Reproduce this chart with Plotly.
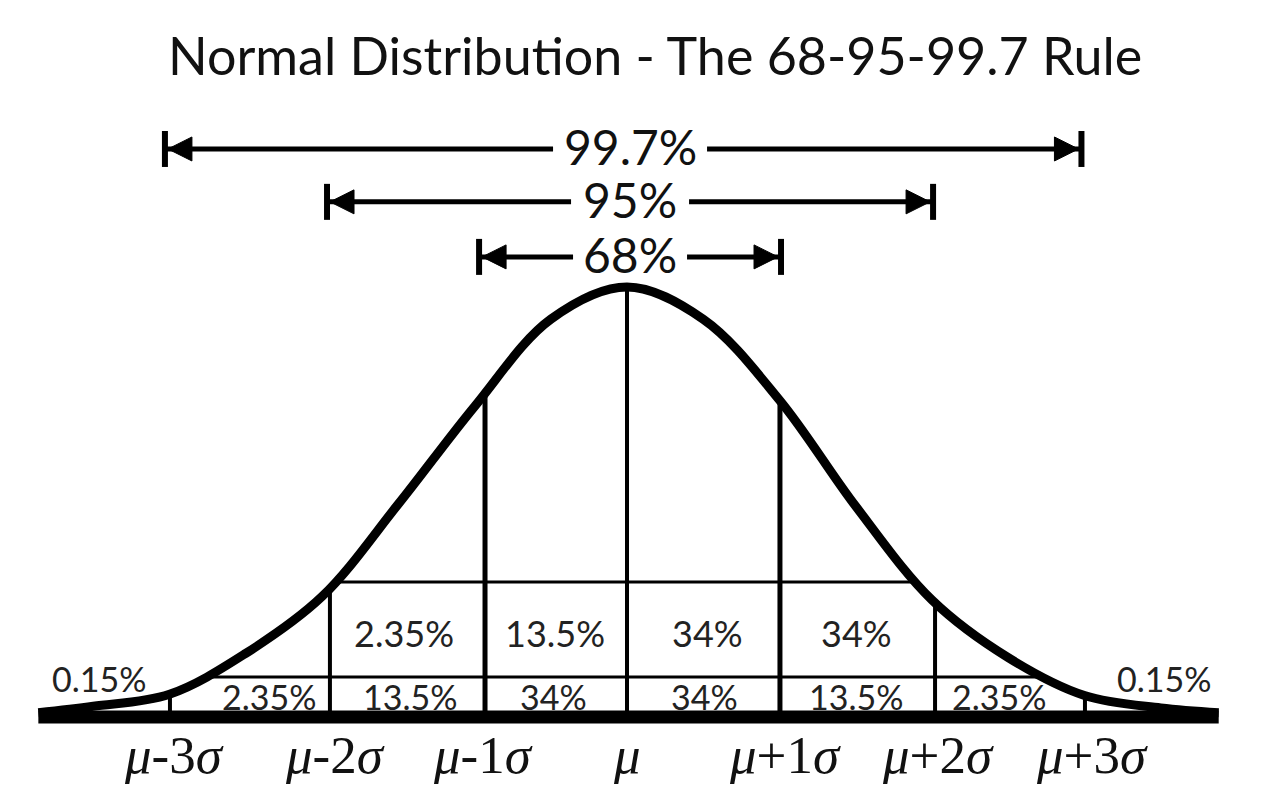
import numpy as np
import plotly.graph_objects as go

# ---------------- data ----------------
title_text = "Normal Distribution - The 68-95-99.7 Rule"

# bell curve: x in sigma units, height relative to the peak
curve_x = [-3.86, -3.5, -3.0, -2.5, -2.0, -1.5, -1.0, -0.5, 0.0,
           0.5, 1.0, 1.5, 2.0, 2.5, 3.0, 3.5, 3.88]
curve_y = [0.010, 0.025, 0.053, 0.148, 0.280, 0.495, 0.722, 0.925, 1.000,
           0.925, 0.737, 0.490, 0.272, 0.138, 0.050, 0.021, 0.010]

# positions of the drawn sigma dividers (as placed in the picture)
sigma_line_x = [-2.997, -1.948, -0.931, 0.0, 1.003, 2.02, 3.003]
sigma_label_x = [-2.97, -1.915, -0.944, 0.0, 1.038, 2.04, 3.05]
sigma_labels = ["<i>μ</i>-3<i>σ</i>", "<i>μ</i>-2<i>σ</i>", "<i>μ</i>-1<i>σ</i>",
                "<i>μ</i>", "<i>μ</i>+1<i>σ</i>", "<i>μ</i>+2<i>σ</i>", "<i>μ</i>+3<i>σ</i>"]

range_labels = ["99.7%", "95%", "68%"]
range_left = [-3.03, -1.967, -0.97]
range_right = [2.98, 2.007, 1.01]
range_heights = [1.321, 1.198, 1.070]

row_line_heights = [0.093, 0.314]

upper_row_x = [-1.462, -0.472, 0.525, 1.508]
upper_row_labels = ["2.35%", "13.5%", "34%", "34%"]
upper_row_height = 0.196

lower_row_x = [-2.348, -1.423, -0.485, 0.511, 1.502, 2.439]
lower_row_labels = ["2.35%", "13.5%", "34%", "34%", "13.5%", "2.35%"]
lower_row_height = 0.047

tail_x = [-3.46, 3.52]
tail_labels = ["0.15%", "0.15%"]
tail_height = 0.090

baseline_x = [-3.86, 3.88]

# ---------------- geometry of the canvas ----------------
W, H = 1280, 800
X0_PX, Y0_PX = 627, 717            # pixel position of (mu, 0)
X_UNIT_PX, Y_UNIT_PX = 152.5, 430  # pixels per sigma / per peak height
px_x = 1.0 / X_UNIT_PX
px_y = 1.0 / Y_UNIT_PX
x_range = [(0 - X0_PX) / X_UNIT_PX, (W - X0_PX) / X_UNIT_PX]
y_range = [(Y0_PX - H) / Y_UNIT_PX, Y0_PX / Y_UNIT_PX]

BLACK = "#000000"
TXT = "#222222"
LABEL_CX = 0.02                      # centre of the arrow labels
GAP_HALF_PX = [77, 59, 57]           # half width of the gap left for each label

fig = go.Figure()

# vertical sigma lines (baseline up to the curve)
for i, pos in enumerate(sigma_line_x):
    top = float(np.interp(pos, curve_x, curve_y))
    fig.add_trace(go.Scatter(x=[pos, pos], y=[0, top], mode="lines",
                             line=dict(color=BLACK, width=5 if i in (2, 4) else 4),
                             hoverinfo="skip", showlegend=False))

# horizontal row lines between the two sides of the curve
peak = int(np.argmax(curve_y))
lx, ly = curve_x[:peak + 1], curve_y[:peak + 1]
rx, ry = curve_x[peak:][::-1], curve_y[peak:][::-1]
for h in row_line_heights:
    xl = float(np.interp(h, ly, lx))
    xr = float(np.interp(h, ry, rx))
    fig.add_trace(go.Scatter(x=[xl, xr], y=[h, h], mode="lines",
                             line=dict(color=BLACK, width=3),
                             hoverinfo="skip", showlegend=False))

# bell curve
fig.add_trace(go.Scatter(x=curve_x, y=curve_y, mode="lines",
                         line=dict(color=BLACK, width=9, shape="spline", smoothing=1.0),
                         hoverinfo="skip", showlegend=False))

# baseline
fig.add_trace(go.Scatter(x=baseline_x, y=[0, 0], mode="lines",
                         line=dict(color=BLACK, width=13),
                         hoverinfo="skip", showlegend=False))

# range arrows
annotations = []
for lab, xl, xr, h, gap in zip(range_labels, range_left, range_right, range_heights, GAP_HALF_PX):
    g = gap * px_x
    fig.add_trace(go.Scatter(x=[xl, LABEL_CX - g, None, LABEL_CX + g, xr],
                             y=[h, h, None, h, h], mode="lines",
                             line=dict(color=BLACK, width=5),
                             hoverinfo="skip", showlegend=False))
    for side, bx in ((-1, xl), (1, xr)):
        fig.add_trace(go.Scatter(x=[bx, bx], y=[h - 18 * px_y, h + 18 * px_y], mode="lines",
                                 line=dict(color=BLACK, width=6),
                                 hoverinfo="skip", showlegend=False))
        tip = bx - side * 3 * px_x
        base = bx - side * 27 * px_x
        fig.add_trace(go.Scatter(x=[tip, base, base, tip],
                                 y=[h, h + 12 * px_y, h - 12 * px_y, h],
                                 mode="lines", fill="toself", fillcolor=BLACK,
                                 line=dict(color=BLACK, width=1),
                                 hoverinfo="skip", showlegend=False))
    annotations.append(dict(x=LABEL_CX, y=h + 2 * px_y, xref="x", yref="y", text=lab,
                            showarrow=False,
                            font=dict(family="Lato", size=48, color="#111111"),
                            xanchor="center", yanchor="middle"))

# percentage labels
for x, lab in zip(upper_row_x, upper_row_labels):
    annotations.append(dict(x=x, y=upper_row_height, xref="x", yref="y", text=lab,
                            showarrow=False, font=dict(family="Lato", size=36, color=TXT),
                            xanchor="center", yanchor="middle"))
for x, lab in zip(lower_row_x, lower_row_labels):
    annotations.append(dict(x=x, y=lower_row_height, xref="x", yref="y", text=lab,
                            showarrow=False, font=dict(family="Lato", size=34, color=TXT),
                            xanchor="center", yanchor="middle"))
for x, lab in zip(tail_x, tail_labels):
    annotations.append(dict(x=x, y=tail_height, xref="x", yref="y", text=lab,
                            showarrow=False, font=dict(family="Lato", size=34, color=TXT),
                            xanchor="center", yanchor="middle"))

# sigma axis labels
for x, lab in zip(sigma_label_x, sigma_labels):
    annotations.append(dict(x=x, y=-0.088, xref="x", yref="y", text=lab,
                            showarrow=False,
                            font=dict(family="Liberation Serif", size=53, color="#111111"),
                            xanchor="center", yanchor="middle"))

# title
annotations.append(dict(x=655 / W, y=1 - 55 / H, xref="paper", yref="paper", text=title_text,
                        showarrow=False, font=dict(family="Lato", size=52, color="#111111"),
                        xanchor="center", yanchor="middle"))

fig.update_layout(
    width=W, height=H, autosize=False,
    margin=dict(l=0, r=0, t=0, b=0, pad=0),
    paper_bgcolor="white", plot_bgcolor="white",
    xaxis=dict(range=x_range, visible=False, fixedrange=True),
    yaxis=dict(range=y_range, visible=False, fixedrange=True),
    annotations=annotations,
    showlegend=False,
)

fig.write_html("out.html", config={"displayModeBar": False},
               post_script="document.body.style.margin='0';")
